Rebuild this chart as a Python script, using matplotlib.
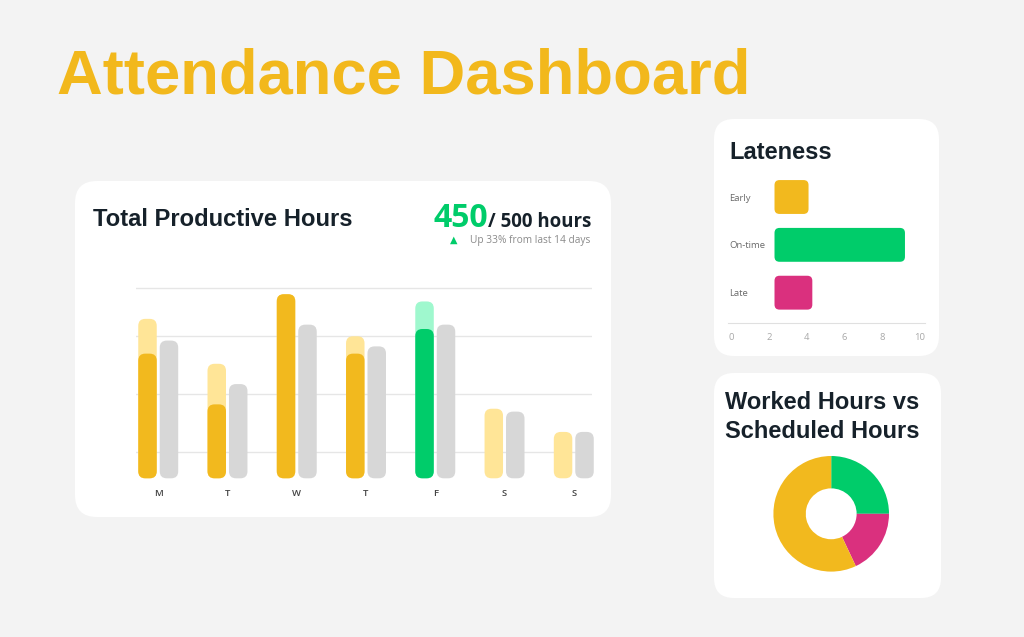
import matplotlib
matplotlib.use("Agg")
import matplotlib.pyplot as plt
from matplotlib.patches import FancyBboxPatch

# ---- data ----
days = ['M', 'T', 'W', 'T', 'F', 'S', 'S']
scheduled = [5.5, 3.95, 6.35, 4.9, 6.1, 2.4, 1.6]      # light bars
worked = [4.3, 2.55, 6.35, 4.3, 5.15, 0, 0]            # solid bars
last_period = [4.75, 3.25, 5.3, 4.55, 5.3, 2.3, 1.6]   # grey bars
highlight_day = 4
grid_levels = [0.9, 2.9, 4.9, 6.55]

late_cats = ['Early', 'On-time', 'Late']
late_ends = [4.1, 9.2, 4.3]
late_start = 2.3

donut_labels = ['Worked', 'Overtime', 'Scheduled']
donut_vals = [25, 18, 57]

# ---- colours ----
BG = '#F3F3F3'
GOLD = '#F2B81C'
YEL = '#F2B91E'
LYEL = '#FFE597'
GREY = '#D7D7D7'
GREEN = '#00CC6A'
LGREEN = '#9FF8CE'
PINK = '#DA307E'
DARK = '#16212A'
SMALL = 'Open Sans'

W, H = 1024, 637
fig = plt.figure(figsize=(W / 100, H / 100), dpi=100, facecolor=BG)

bg = fig.add_axes([0, 0, 1, 1])
bg.set_xlim(0, W)
bg.set_ylim(H, 0)
bg.axis('off')
bg.set_facecolor(BG)


def card(x0, y0, x1, y1, r=20):
    bg.add_patch(FancyBboxPatch((x0, y0), x1 - x0, y1 - y0,
                                boxstyle=f"round,pad=0,rounding_size={r}",
                                fc='white', ec='none', zorder=1))


card(75, 181, 611, 517, 22)
card(714, 119, 939, 356, 20)
card(714, 373, 941, 598, 20)


def px_axes(left, top, right, bottom):
    return fig.add_axes([left / W, (H - bottom) / H, (right - left) / W, (bottom - top) / H])


def round_bars(ax, bars, r_px):
    # swap plain bar rectangles for rounded ones
    bb = ax.get_position()
    ax_w = bb.width * W
    ax_h = bb.height * H
    x0, x1 = ax.get_xlim()
    y0, y1 = ax.get_ylim()
    ux = (x1 - x0) / ax_w
    uy = (y1 - y0) / ax_h
    for b in bars:
        if b.get_width() <= 0 or b.get_height() <= 0:
            b.remove()
            continue
        p = FancyBboxPatch((b.get_x(), b.get_y()), b.get_width(), b.get_height(),
                           boxstyle=f"round,pad=0,rounding_size={r_px * ux}",
                           mutation_aspect=uy / ux, fc=b.get_facecolor(),
                           ec='none', zorder=b.get_zorder(), clip_on=False)
        ax.add_patch(p)
        b.remove()


# ---- text ----
bg.text(57, 94, 'Attendance Dashboard', fontsize=45.6, fontweight='bold',
        color=GOLD, family='Liberation Sans', va='baseline', zorder=3)
bg.text(93, 226, 'Total Productive Hours', fontsize=17.1, fontweight='bold',
        color=DARK, family='Liberation Sans', va='baseline', zorder=3)
bg.text(488, 227, '450', fontsize=23, fontweight='bold', color=GREEN,
        family=SMALL, va='baseline', ha='right', zorder=3)
bg.text(488, 227, '/ 500 hours', fontsize=13.4, fontweight='bold', color=DARK,
        family=SMALL, va='baseline', ha='left', zorder=3)
bg.text(454, 240, '\u25B2', fontsize=7, color=GREEN, ha='center', va='center',
        family='DejaVu Sans', zorder=3)
bg.text(470, 240, 'Up 33% from last 14 days', fontsize=7.3, color='#8A8A8A',
        family=SMALL, va='center', ha='left', zorder=3)
bg.text(729, 159, 'Lateness', fontsize=17, fontweight='bold', color=DARK,
        family='Liberation Sans', va='baseline', zorder=3)
bg.text(725, 409, 'Worked Hours vs', fontsize=17, fontweight='bold', color=DARK,
        family='Liberation Sans', va='baseline', zorder=3)
bg.text(725, 438, 'Scheduled Hours', fontsize=17, fontweight='bold', color=DARK,
        family='Liberation Sans', va='baseline', zorder=3)

# ---- productive hours bars ----
ax = px_axes(136, 280, 592, 478.3)
ax.set_xlim(-0.321, 6.263)
ax.set_ylim(0, 6.84)
ax.patch.set_alpha(0)
for s in ax.spines.values():
    s.set_visible(False)
x = list(range(len(days)))
off, bw = 0.155, 0.267
solid_cols = [GREEN if i == highlight_day else YEL for i in x]
light_cols = [LGREEN if i == highlight_day else LYEL for i in x]
b1 = ax.bar([i - off for i in x], scheduled, bw, color=light_cols, zorder=2)
b2 = ax.bar([i - off for i in x], worked, bw, color=solid_cols, zorder=3)
b3 = ax.bar([i + off for i in x], last_period, bw, color=GREY, zorder=2)
for bars in (b1, b2, b3):
    round_bars(ax, bars, 7)
for g in grid_levels:
    ax.axhline(g, color='#E6E6E6', lw=1, zorder=1)
ax.set_xticks(x)
ax.set_xticklabels(days, fontsize=6.8, color='#444444', family=SMALL, fontweight='semibold')
ax.set_yticks([])
ax.tick_params(axis='x', length=0, pad=8)

# ---- lateness ----
lx = px_axes(728, 175, 925, 323.3)
lx.set_xlim(-0.16, 10.26)
lx.set_ylim(-0.64, 2.46)
lx.patch.set_alpha(0)
for k in ['top', 'right', 'left']:
    lx.spines[k].set_visible(False)
lx.spines['bottom'].set_color('#E0E0E0')
ypos = [2, 1, 0]
lb = lx.barh(ypos, [e - late_start for e in late_ends], 0.708, left=late_start,
             color=[YEL, GREEN, PINK], zorder=2)
round_bars(lx, lb, 5)
lx.set_xticks(range(0, 11, 2))
lx.set_xticklabels([str(v) for v in range(0, 11, 2)], fontsize=6.8, color='#A8A8A8', family=SMALL)
lx.set_yticks(ypos)
lx.set_yticklabels(late_cats, fontsize=6.8, color='#6A6A6A', family=SMALL)
for t in lx.get_yticklabels():
    t.set_ha('left')
lx.tick_params(axis='x', length=0, pad=7)
lx.tick_params(axis='y', length=0, pad=-1)

# ---- donut ----
cx, cy, half = 831.2, 513.8, 60
dx = px_axes(cx - half, cy - half, cx + half, cy + half)
dx.pie(donut_vals, colors=[GREEN, PINK, YEL], startangle=90, counterclock=False,
       radius=1, wedgeprops=dict(width=0.56, edgecolor='none'))
dx.set_xlim(-half / 57.8, half / 57.8)
dx.set_ylim(-half / 57.8, half / 57.8)
dx.set_aspect('auto')
dx.axis('off')

fig.savefig('out.png', dpi=100, facecolor=BG)
